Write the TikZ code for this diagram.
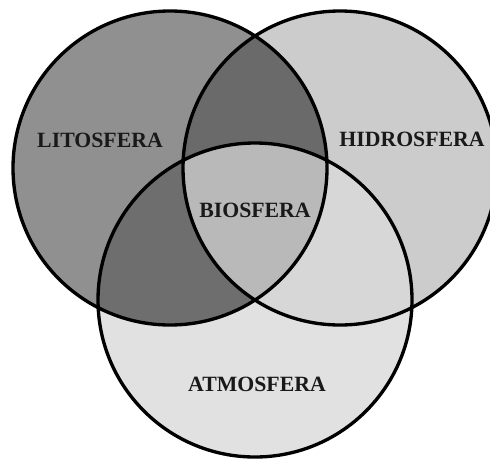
\documentclass[tikz,border=0pt]{standalone}
\usepackage{fontspec}
\setmainfont{Liberation Serif}
\usepackage{tikz}
\definecolor{lito}{HTML}{909090}
\definecolor{hidro}{HTML}{CCCCCC}
\definecolor{atmo}{HTML}{E1E1E1}
\definecolor{lito-hidro}{HTML}{6A6A6A}
\definecolor{lito-atmo}{HTML}{6E6E6E}
\definecolor{hidro-atmo}{HTML}{D7D7D7}
\definecolor{bio}{HTML}{B9B9B9}
\tikzset{esfera/.style={font=\bfseries\fontsize{12.4}{14}\selectfont, text=black!90}}

\begin{document}
\begin{tikzpicture}[scale=0.02]
    \useasboundingbox (0,0) rectangle (490,459);
    % the three spheres
    \fill[lito] (170,291) circle (157);
    \fill[hidro] (340,291) circle (157);
    \fill[atmo] (255,159) circle (157);
    \begin{scope}
        \clip (170,291) circle (157);
        \fill[lito-hidro] (340,291) circle (157);
        \fill[lito-atmo] (255,159) circle (157);
    \end{scope}
    \begin{scope}
        \clip (340,291) circle (157);
        \fill[hidro-atmo] (255,159) circle (157);
        \clip (255,159) circle (157);
        \fill[bio] (170,291) circle (157);
    \end{scope}
    \draw[line width=1.9pt] (170,291) circle (157);
    \draw[line width=1.9pt] (340,291) circle (157);
    \draw[line width=1.9pt] (255,159) circle (157);
    \node[esfera] (lito) at (100,319) {LITOSFERA};
    \node[esfera] (hidro) at (412,320) {HIDROSFERA};
    \node[esfera] (bio) at (255,249) {BIOSFERA};
    \node[esfera] (atmo) at (257,75) {ATMOSFERA};
\end{tikzpicture}
\end{document}
